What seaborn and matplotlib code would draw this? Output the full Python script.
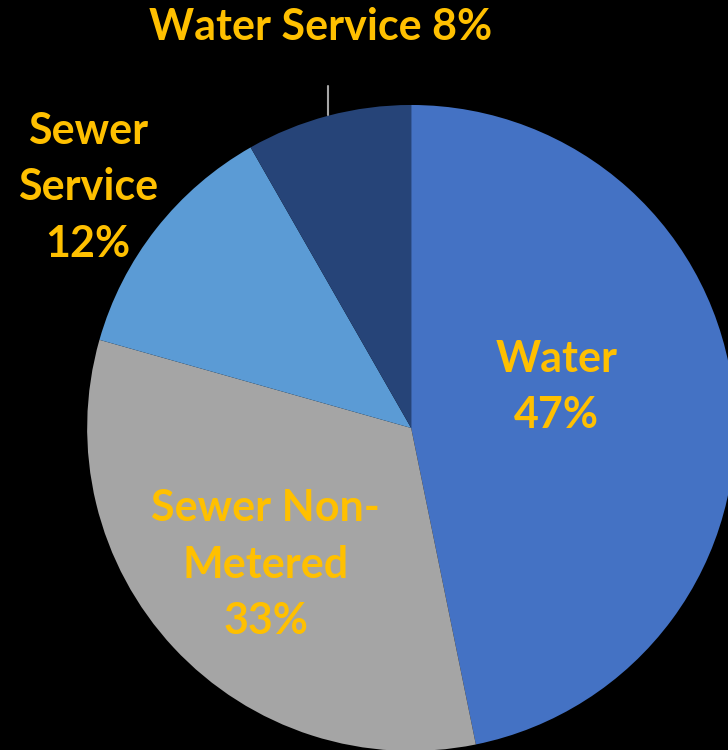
import matplotlib
matplotlib.use("Agg")
import matplotlib.pyplot as plt
import seaborn as sns

categories = ["Water", "Sewer Non-Metered", "Sewer Service", "Water Service"]
values = [46.8, 32.6, 12.35, 8.25]
label_texts = ["Water\n47%", "Sewer Non-\nMetered\n33%", "Sewer\nService\n12%", "Water Service 8%"]
colors = ["#4472C4", "#A5A5A5", "#5B9BD5", "#264478"]

sns.set_theme(style="white")
plt.rcParams['font.family'] = ['Lato', 'DejaVu Sans']

fig = plt.figure(figsize=(7.28, 7.5), dpi=100, facecolor="black")
ax = fig.add_axes([0, 0, 1, 1])
ax.set_facecolor("black")

ax.pie(values, colors=colors, startangle=90, counterclock=False, radius=1,
       wedgeprops=dict(linewidth=0))

# axis limits so the pie sits as in the reference
ax.set_xlim(-1.269, 0.978)
ax.set_ylim(-0.997, 1.325)
ax.set_aspect('auto')
ax.axis('off')

label_pos = [(0.449, 0.127), (-0.449, -0.424), (-0.997, 0.746), (-0.279, 1.241)]
for txt, (x, y) in zip(label_texts, label_pos):
    ax.text(x, y, txt, ha='center', va='center', color="#FFC000",
            fontsize=31, fontweight='bold', linespacing=1.5)

# leader line for Water Service
ax.plot([-0.257, -0.257], [1.059, 0.969], color="#A6A6A6", linewidth=1.5)

fig.savefig("out.png", dpi=100, facecolor="black")
